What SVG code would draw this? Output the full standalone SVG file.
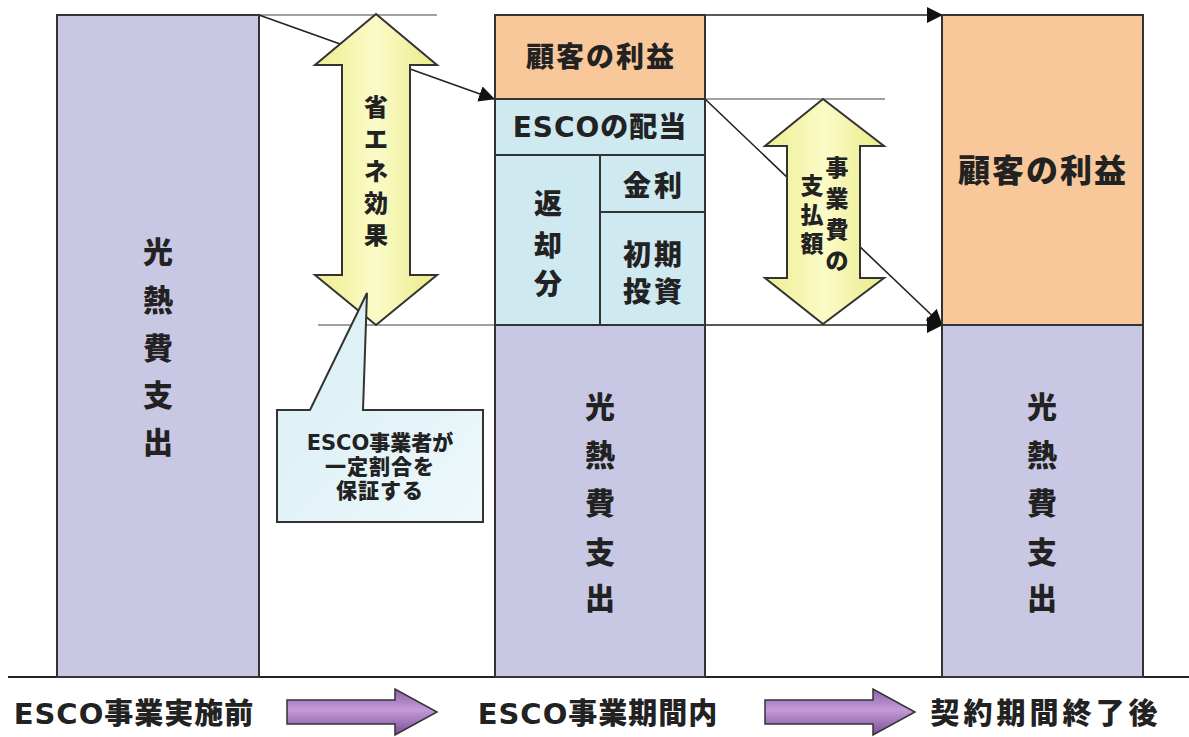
<svg xmlns="http://www.w3.org/2000/svg" width="1189" height="737" viewBox="0 0 1189 737">
<defs>
<style>
.bar{stroke:#333;stroke-width:2}
.pur{fill:#c9c8e4}
.org{fill:#f9c89a}
.blu{fill:#cfe9f1}
.t{font-family:"DejaVu Sans","Noto Sans CJK JP",sans-serif;font-weight:900;fill:#222;text-anchor:middle}
.ln{stroke:#222;stroke-width:1.6;fill:none}
.lg{stroke:#444;stroke-width:1.2;fill:none}
.ya{stroke:#333;stroke-width:2;fill:url(#yg)}
.pa{stroke:#333;stroke-width:1.5;fill:url(#pg)}
</style>
<linearGradient id="yg" x1="0" y1="0" x2="1" y2="0">
<stop offset="0" stop-color="#eeee90"/>
<stop offset="0.5" stop-color="#fbfbc8"/>
<stop offset="1" stop-color="#eaea88"/>
</linearGradient>
<linearGradient id="pg" x1="0" y1="0" x2="0" y2="1">
<stop offset="0" stop-color="#8a62a8"/>
<stop offset="0.45" stop-color="#c49ad8"/>
<stop offset="1" stop-color="#7a4e9a"/>
</linearGradient>
<linearGradient id="cg" x1="0" y1="0" x2="1" y2="1">
<stop offset="0" stop-color="#d6eef4"/>
<stop offset="1" stop-color="#eef8fb"/>
</linearGradient>
<marker id="ahb" markerWidth="16" markerHeight="16" refX="15" refY="8" orient="auto" markerUnits="userSpaceOnUse" viewBox="0 0 16 16">
<path d="M0,0 L16,8 L0,16 Z" fill="#111"/>
</marker>
</defs>
<rect width="1189" height="737" fill="#fff"/>

<g id="connectors">
<line class="lg" x1="259" y1="15" x2="437" y2="15"/>
<line class="lg" x1="318" y1="325" x2="495" y2="325"/>
<line class="lg" x1="705" y1="99" x2="885" y2="99"/>
<line class="ln" x1="259" y1="15" x2="494" y2="99" marker-end="url(#ahb)"/>
<line class="ln" x1="705" y1="15" x2="942" y2="15" marker-end="url(#ahb)"/>
<line class="ln" x1="705" y1="99" x2="942" y2="325" marker-end="url(#ahb)"/>
<line class="ln" x1="705" y1="325" x2="942" y2="325" marker-end="url(#ahb)"/>
<line stroke="#222" stroke-width="2.2" x1="8" y1="677" x2="1189" y2="677"/>
</g>

<g id="bar-before">
<rect class="bar pur" x="57" y="15" width="202" height="662"/>
<text class="t" font-size="30" x="158" y="263">光</text>
<text class="t" font-size="30" x="158" y="311">熱</text>
<text class="t" font-size="30" x="158" y="359">費</text>
<text class="t" font-size="30" x="158" y="406">支</text>
<text class="t" font-size="30" x="158" y="453">出</text>
</g>

<g id="bar-during">
<rect class="bar org" x="495" y="15" width="210" height="84"/>
<text class="t" font-size="28" letter-spacing="2" x="601" y="67">顧客の利益</text>
<rect class="bar blu" x="495" y="99" width="210" height="56"/>
<text class="t" font-size="28" letter-spacing="1" x="600" y="137">ESCOの配当</text>
<rect class="bar blu" x="495" y="155" width="105" height="170"/>
<text class="t" font-size="28" x="548" y="214">返</text>
<text class="t" font-size="28" x="548" y="256">却</text>
<text class="t" font-size="28" x="548" y="294">分</text>
<rect class="bar blu" x="600" y="155" width="105" height="57"/>
<text class="t" font-size="28" letter-spacing="3" x="654" y="196">金利</text>
<rect class="bar blu" x="600" y="212" width="105" height="113"/>
<text class="t" font-size="28" letter-spacing="3" x="654" y="265">初期</text>
<text class="t" font-size="28" letter-spacing="3" x="654" y="302">投資</text>
<rect class="bar pur" x="495" y="325" width="210" height="352"/>
<text class="t" font-size="30" x="600" y="418">光</text>
<text class="t" font-size="30" x="600" y="466">熱</text>
<text class="t" font-size="30" x="600" y="514">費</text>
<text class="t" font-size="30" x="600" y="563">支</text>
<text class="t" font-size="30" x="600" y="609">出</text>
</g>

<g id="bar-after">
<rect class="bar org" x="942" y="15" width="201" height="310"/>
<text class="t" font-size="32" letter-spacing="2" x="1043" y="182">顧客の利益</text>
<rect class="bar pur" x="942" y="325" width="201" height="352"/>
<text class="t" font-size="30" x="1042" y="418">光</text>
<text class="t" font-size="30" x="1042" y="466">熱</text>
<text class="t" font-size="30" x="1042" y="514">費</text>
<text class="t" font-size="30" x="1042" y="563">支</text>
<text class="t" font-size="30" x="1042" y="609">出</text>
</g>

<g id="saving-arrow">
<polygon class="ya" points="376,14 437,65 410,65 410,275 437,275 376,325 315,275 342,275 342,65 315,65"/>
<text class="t" font-size="24" x="376" y="116">省</text>
<text class="t" font-size="24" x="376" y="148">エ</text>
<text class="t" font-size="24" x="376" y="180">ネ</text>
<text class="t" font-size="24" x="376" y="212">効</text>
<text class="t" font-size="24" x="376" y="244">果</text>
</g>

<g id="callout">
<path d="M277,410 L310,410 L367,293 L363,410 L483,410 L483,522 L277,522 Z" fill="url(#cg)" stroke="#333" stroke-width="2"/>
<text class="t" font-size="21" x="380" y="450">ESCO事業者が</text>
<text class="t" font-size="21" letter-spacing="1" x="380" y="474">一定割合を</text>
<text class="t" font-size="21" letter-spacing="1" x="380" y="498">保証する</text>
</g>

<g id="payment-arrow">
<polygon class="ya" points="823,99 884,146 860,146 860,278 884,278 823,324 765,278 787,278 787,146 765,146"/>
<text class="t" font-size="23" x="837" y="176">事</text>
<text class="t" font-size="23" x="837" y="207">業</text>
<text class="t" font-size="23" x="837" y="238">費</text>
<text class="t" font-size="23" x="837" y="269">の</text>
<text class="t" font-size="23" x="812" y="194">支</text>
<text class="t" font-size="23" x="812" y="223">払</text>
<text class="t" font-size="23" x="812" y="252">額</text>
</g>

<g id="label-before">
<text class="t" font-size="29" x="134" y="724" letter-spacing="1">ESCO事業実施前</text>
</g>
<g id="step-arrow-1">
<polygon class="pa" points="287,700 395,700 395,689 437,712 395,735 395,724 287,724"/>
</g>
<g id="label-during">
<text class="t" font-size="29" x="598" y="724" letter-spacing="1">ESCO事業期間内</text>
</g>
<g id="step-arrow-2">
<polygon class="pa" points="765,700 873,700 873,689 915,712 873,735 873,724 765,724"/>
</g>
<g id="label-after">
<text class="t" font-size="29" x="1046" y="724" letter-spacing="4">契約期間終了後</text>
</g>
</svg>
